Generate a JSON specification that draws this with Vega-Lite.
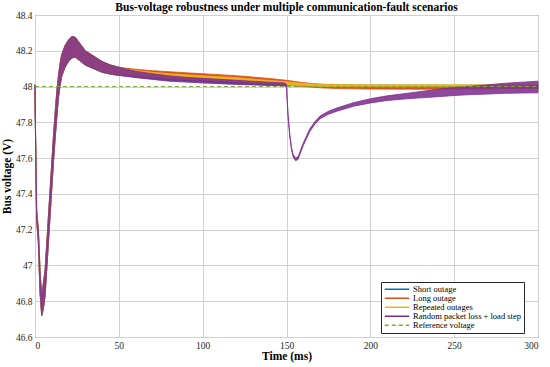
{
  "$schema": "https://vega.github.io/schema/vega-lite/v6.json",
  "width": 503,
  "height": 322,
  "autosize": {"type": "none"},
  "padding": {"left": 35, "top": 15, "right": 12, "bottom": 30},
  "background": "white",
  "config": {
    "font": "Liberation Serif",
    "view": {"stroke": "#262626", "strokeWidth": 1},
    "axis": {
      "labelFont": "Liberation Serif",
      "labelFontSize": 9.5,
      "labelColor": "#262626",
      "titleFont": "Liberation Serif",
      "titleFontSize": 11.5,
      "titleFontWeight": "bold",
      "titleColor": "#000000",
      "grid": true,
      "gridColor": "#d0d0d0",
      "gridWidth": 1,
      "domain": false,
      "ticks": false,
      "labelPadding": 3
    }
  },
  "title": {
    "text": "Bus-voltage robustness under multiple communication-fault scenarios",
    "font": "Liberation Serif",
    "fontSize": 11.5,
    "fontWeight": "bold",
    "color": "#000000",
    "offset": 3,
    "dy": 6
  },
  "data": {
    "values": [
      {"series": "Short outage", "t": 0, "lo": 47.99, "hi": 48.01},
      {"series": "Short outage", "t": 0.5, "lo": 47.55, "hi": 47.6},
      {"series": "Short outage", "t": 1, "lo": 47.25, "hi": 47.3},
      {"series": "Short outage", "t": 2, "lo": 47.13, "hi": 47.2},
      {"series": "Short outage", "t": 3, "lo": 46.85, "hi": 46.97},
      {"series": "Short outage", "t": 4, "lo": 46.72, "hi": 46.82},
      {"series": "Short outage", "t": 5, "lo": 46.76, "hi": 46.9},
      {"series": "Short outage", "t": 6, "lo": 46.83, "hi": 46.97},
      {"series": "Short outage", "t": 7, "lo": 46.98, "hi": 47.12},
      {"series": "Short outage", "t": 8, "lo": 47.13, "hi": 47.27},
      {"series": "Short outage", "t": 9, "lo": 47.28, "hi": 47.42},
      {"series": "Short outage", "t": 10, "lo": 47.43, "hi": 47.57},
      {"series": "Short outage", "t": 11, "lo": 47.58, "hi": 47.72},
      {"series": "Short outage", "t": 12, "lo": 47.71, "hi": 47.85},
      {"series": "Short outage", "t": 13, "lo": 47.83, "hi": 47.97},
      {"series": "Short outage", "t": 14, "lo": 47.94, "hi": 48.06},
      {"series": "Short outage", "t": 15, "lo": 48.01, "hi": 48.13},
      {"series": "Short outage", "t": 16, "lo": 48.06, "hi": 48.18},
      {"series": "Short outage", "t": 18, "lo": 48.11, "hi": 48.23},
      {"series": "Short outage", "t": 20, "lo": 48.14, "hi": 48.26},
      {"series": "Short outage", "t": 22, "lo": 48.16, "hi": 48.28},
      {"series": "Short outage", "t": 24, "lo": 48.165, "hi": 48.275},
      {"series": "Short outage", "t": 26, "lo": 48.15, "hi": 48.25},
      {"series": "Short outage", "t": 30, "lo": 48.12, "hi": 48.2},
      {"series": "Short outage", "t": 35, "lo": 48.1, "hi": 48.17},
      {"series": "Short outage", "t": 40, "lo": 48.08, "hi": 48.14},
      {"series": "Short outage", "t": 45, "lo": 48.07, "hi": 48.12},
      {"series": "Short outage", "t": 50, "lo": 48.062, "hi": 48.108},
      {"series": "Short outage", "t": 55, "lo": 48.06, "hi": 48.095},
      {"series": "Short outage", "t": 60, "lo": 48.052, "hi": 48.082},
      {"series": "Short outage", "t": 80, "lo": 48.035, "hi": 48.058},
      {"series": "Short outage", "t": 100, "lo": 48.025, "hi": 48.045},
      {"series": "Short outage", "t": 120, "lo": 48.016, "hi": 48.034},
      {"series": "Short outage", "t": 150, "lo": 48.005, "hi": 48.02},
      {"series": "Short outage", "t": 170, "lo": 48.0, "hi": 48.012},
      {"series": "Short outage", "t": 200, "lo": 47.998, "hi": 48.008},
      {"series": "Short outage", "t": 300, "lo": 47.998, "hi": 48.006},

      {"series": "Long outage", "t": 0, "lo": 47.99, "hi": 48.01},
      {"series": "Long outage", "t": 0.5, "lo": 47.55, "hi": 47.6},
      {"series": "Long outage", "t": 1, "lo": 47.25, "hi": 47.3},
      {"series": "Long outage", "t": 2, "lo": 47.13, "hi": 47.2},
      {"series": "Long outage", "t": 3, "lo": 46.85, "hi": 46.97},
      {"series": "Long outage", "t": 4, "lo": 46.72, "hi": 46.82},
      {"series": "Long outage", "t": 5, "lo": 46.76, "hi": 46.9},
      {"series": "Long outage", "t": 6, "lo": 46.83, "hi": 46.97},
      {"series": "Long outage", "t": 7, "lo": 46.98, "hi": 47.12},
      {"series": "Long outage", "t": 8, "lo": 47.13, "hi": 47.27},
      {"series": "Long outage", "t": 9, "lo": 47.28, "hi": 47.42},
      {"series": "Long outage", "t": 10, "lo": 47.43, "hi": 47.57},
      {"series": "Long outage", "t": 11, "lo": 47.58, "hi": 47.72},
      {"series": "Long outage", "t": 12, "lo": 47.71, "hi": 47.85},
      {"series": "Long outage", "t": 13, "lo": 47.83, "hi": 47.97},
      {"series": "Long outage", "t": 14, "lo": 47.94, "hi": 48.06},
      {"series": "Long outage", "t": 15, "lo": 48.01, "hi": 48.13},
      {"series": "Long outage", "t": 16, "lo": 48.06, "hi": 48.18},
      {"series": "Long outage", "t": 18, "lo": 48.11, "hi": 48.23},
      {"series": "Long outage", "t": 20, "lo": 48.14, "hi": 48.26},
      {"series": "Long outage", "t": 22, "lo": 48.16, "hi": 48.28},
      {"series": "Long outage", "t": 24, "lo": 48.165, "hi": 48.275},
      {"series": "Long outage", "t": 26, "lo": 48.15, "hi": 48.25},
      {"series": "Long outage", "t": 30, "lo": 48.12, "hi": 48.2},
      {"series": "Long outage", "t": 35, "lo": 48.1, "hi": 48.17},
      {"series": "Long outage", "t": 40, "lo": 48.08, "hi": 48.14},
      {"series": "Long outage", "t": 45, "lo": 48.07, "hi": 48.12},
      {"series": "Long outage", "t": 50, "lo": 48.062, "hi": 48.108},
      {"series": "Long outage", "t": 55, "lo": 48.068, "hi": 48.102},
      {"series": "Long outage", "t": 60, "lo": 48.06, "hi": 48.097},
      {"series": "Long outage", "t": 70, "lo": 48.053, "hi": 48.089},
      {"series": "Long outage", "t": 80, "lo": 48.047, "hi": 48.083},
      {"series": "Long outage", "t": 90, "lo": 48.043, "hi": 48.077},
      {"series": "Long outage", "t": 100, "lo": 48.04, "hi": 48.072},
      {"series": "Long outage", "t": 120, "lo": 48.031, "hi": 48.061},
      {"series": "Long outage", "t": 140, "lo": 48.017, "hi": 48.045},
      {"series": "Long outage", "t": 150, "lo": 48.009, "hi": 48.035},
      {"series": "Long outage", "t": 160, "lo": 48.0, "hi": 48.022},
      {"series": "Long outage", "t": 170, "lo": 47.993, "hi": 48.013},
      {"series": "Long outage", "t": 180, "lo": 47.989, "hi": 48.008},
      {"series": "Long outage", "t": 200, "lo": 47.986, "hi": 48.005},
      {"series": "Long outage", "t": 230, "lo": 47.985, "hi": 48.004},
      {"series": "Long outage", "t": 260, "lo": 47.987, "hi": 48.005},
      {"series": "Long outage", "t": 300, "lo": 47.99, "hi": 48.007},

      {"series": "Repeated outages", "t": 0, "lo": 47.99, "hi": 48.01},
      {"series": "Repeated outages", "t": 0.5, "lo": 47.55, "hi": 47.6},
      {"series": "Repeated outages", "t": 1, "lo": 47.25, "hi": 47.3},
      {"series": "Repeated outages", "t": 2, "lo": 47.13, "hi": 47.2},
      {"series": "Repeated outages", "t": 3, "lo": 46.85, "hi": 46.97},
      {"series": "Repeated outages", "t": 4, "lo": 46.72, "hi": 46.82},
      {"series": "Repeated outages", "t": 5, "lo": 46.76, "hi": 46.9},
      {"series": "Repeated outages", "t": 6, "lo": 46.83, "hi": 46.97},
      {"series": "Repeated outages", "t": 7, "lo": 46.98, "hi": 47.12},
      {"series": "Repeated outages", "t": 8, "lo": 47.13, "hi": 47.27},
      {"series": "Repeated outages", "t": 9, "lo": 47.28, "hi": 47.42},
      {"series": "Repeated outages", "t": 10, "lo": 47.43, "hi": 47.57},
      {"series": "Repeated outages", "t": 11, "lo": 47.58, "hi": 47.72},
      {"series": "Repeated outages", "t": 12, "lo": 47.71, "hi": 47.85},
      {"series": "Repeated outages", "t": 13, "lo": 47.83, "hi": 47.97},
      {"series": "Repeated outages", "t": 14, "lo": 47.94, "hi": 48.06},
      {"series": "Repeated outages", "t": 15, "lo": 48.01, "hi": 48.13},
      {"series": "Repeated outages", "t": 16, "lo": 48.06, "hi": 48.18},
      {"series": "Repeated outages", "t": 18, "lo": 48.11, "hi": 48.23},
      {"series": "Repeated outages", "t": 20, "lo": 48.14, "hi": 48.26},
      {"series": "Repeated outages", "t": 22, "lo": 48.16, "hi": 48.28},
      {"series": "Repeated outages", "t": 24, "lo": 48.165, "hi": 48.275},
      {"series": "Repeated outages", "t": 26, "lo": 48.15, "hi": 48.25},
      {"series": "Repeated outages", "t": 30, "lo": 48.12, "hi": 48.2},
      {"series": "Repeated outages", "t": 35, "lo": 48.1, "hi": 48.17},
      {"series": "Repeated outages", "t": 40, "lo": 48.08, "hi": 48.14},
      {"series": "Repeated outages", "t": 45, "lo": 48.07, "hi": 48.12},
      {"series": "Repeated outages", "t": 50, "lo": 48.062, "hi": 48.108},
      {"series": "Repeated outages", "t": 55, "lo": 48.068, "hi": 48.098},
      {"series": "Repeated outages", "t": 60, "lo": 48.06, "hi": 48.09},
      {"series": "Repeated outages", "t": 70, "lo": 48.052, "hi": 48.08},
      {"series": "Repeated outages", "t": 80, "lo": 48.045, "hi": 48.072},
      {"series": "Repeated outages", "t": 100, "lo": 48.036, "hi": 48.06},
      {"series": "Repeated outages", "t": 120, "lo": 48.027, "hi": 48.05},
      {"series": "Repeated outages", "t": 140, "lo": 48.015, "hi": 48.034},
      {"series": "Repeated outages", "t": 150, "lo": 48.009, "hi": 48.027},
      {"series": "Repeated outages", "t": 160, "lo": 48.004, "hi": 48.018},
      {"series": "Repeated outages", "t": 170, "lo": 48.0, "hi": 48.013},
      {"series": "Repeated outages", "t": 200, "lo": 47.999, "hi": 48.01},
      {"series": "Repeated outages", "t": 250, "lo": 47.999, "hi": 48.01},
      {"series": "Repeated outages", "t": 300, "lo": 47.999, "hi": 48.01},

      {"series": "Random packet loss + load step", "t": 0, "lo": 47.99, "hi": 48.01},
      {"series": "Random packet loss + load step", "t": 0.5, "lo": 47.55, "hi": 47.6},
      {"series": "Random packet loss + load step", "t": 1, "lo": 47.25, "hi": 47.3},
      {"series": "Random packet loss + load step", "t": 2, "lo": 47.13, "hi": 47.2},
      {"series": "Random packet loss + load step", "t": 3, "lo": 46.85, "hi": 46.97},
      {"series": "Random packet loss + load step", "t": 4, "lo": 46.72, "hi": 46.82},
      {"series": "Random packet loss + load step", "t": 5, "lo": 46.76, "hi": 46.9},
      {"series": "Random packet loss + load step", "t": 6, "lo": 46.83, "hi": 46.97},
      {"series": "Random packet loss + load step", "t": 7, "lo": 46.98, "hi": 47.12},
      {"series": "Random packet loss + load step", "t": 8, "lo": 47.13, "hi": 47.27},
      {"series": "Random packet loss + load step", "t": 9, "lo": 47.28, "hi": 47.42},
      {"series": "Random packet loss + load step", "t": 10, "lo": 47.43, "hi": 47.57},
      {"series": "Random packet loss + load step", "t": 11, "lo": 47.58, "hi": 47.72},
      {"series": "Random packet loss + load step", "t": 12, "lo": 47.71, "hi": 47.85},
      {"series": "Random packet loss + load step", "t": 13, "lo": 47.83, "hi": 47.97},
      {"series": "Random packet loss + load step", "t": 14, "lo": 47.94, "hi": 48.06},
      {"series": "Random packet loss + load step", "t": 15, "lo": 48.01, "hi": 48.13},
      {"series": "Random packet loss + load step", "t": 16, "lo": 48.06, "hi": 48.18},
      {"series": "Random packet loss + load step", "t": 18, "lo": 48.11, "hi": 48.23},
      {"series": "Random packet loss + load step", "t": 20, "lo": 48.14, "hi": 48.26},
      {"series": "Random packet loss + load step", "t": 22, "lo": 48.16, "hi": 48.28},
      {"series": "Random packet loss + load step", "t": 24, "lo": 48.165, "hi": 48.275},
      {"series": "Random packet loss + load step", "t": 26, "lo": 48.15, "hi": 48.25},
      {"series": "Random packet loss + load step", "t": 30, "lo": 48.12, "hi": 48.2},
      {"series": "Random packet loss + load step", "t": 35, "lo": 48.1, "hi": 48.17},
      {"series": "Random packet loss + load step", "t": 40, "lo": 48.08, "hi": 48.14},
      {"series": "Random packet loss + load step", "t": 45, "lo": 48.07, "hi": 48.12},
      {"series": "Random packet loss + load step", "t": 50, "lo": 48.062, "hi": 48.108},
      {"series": "Random packet loss + load step", "t": 60, "lo": 48.05, "hi": 48.085},
      {"series": "Random packet loss + load step", "t": 70, "lo": 48.04, "hi": 48.072},
      {"series": "Random packet loss + load step", "t": 80, "lo": 48.03, "hi": 48.06},
      {"series": "Random packet loss + load step", "t": 90, "lo": 48.025, "hi": 48.052},
      {"series": "Random packet loss + load step", "t": 100, "lo": 48.02, "hi": 48.046},
      {"series": "Random packet loss + load step", "t": 120, "lo": 48.012, "hi": 48.035},
      {"series": "Random packet loss + load step", "t": 140, "lo": 48.006, "hi": 48.024},
      {"series": "Random packet loss + load step", "t": 149, "lo": 48.004, "hi": 48.02},
      {"series": "Random packet loss + load step", "t": 150, "lo": 47.995, "hi": 48.012},
      {"series": "Random packet loss + load step", "t": 150.5, "lo": 47.9, "hi": 47.915},
      {"series": "Random packet loss + load step", "t": 151, "lo": 47.82, "hi": 47.835},
      {"series": "Random packet loss + load step", "t": 152, "lo": 47.715, "hi": 47.73},
      {"series": "Random packet loss + load step", "t": 153, "lo": 47.645, "hi": 47.66},
      {"series": "Random packet loss + load step", "t": 154, "lo": 47.605, "hi": 47.62},
      {"series": "Random packet loss + load step", "t": 155.5, "lo": 47.585, "hi": 47.6},
      {"series": "Random packet loss + load step", "t": 157, "lo": 47.595, "hi": 47.61},
      {"series": "Random packet loss + load step", "t": 158, "lo": 47.62, "hi": 47.635},
      {"series": "Random packet loss + load step", "t": 160, "lo": 47.67, "hi": 47.685},
      {"series": "Random packet loss + load step", "t": 162, "lo": 47.71, "hi": 47.725},
      {"series": "Random packet loss + load step", "t": 164, "lo": 47.75, "hi": 47.765},
      {"series": "Random packet loss + load step", "t": 167, "lo": 47.79, "hi": 47.805},
      {"series": "Random packet loss + load step", "t": 170, "lo": 47.82, "hi": 47.835},
      {"series": "Random packet loss + load step", "t": 175, "lo": 47.845, "hi": 47.862},
      {"series": "Random packet loss + load step", "t": 180, "lo": 47.862, "hi": 47.88},
      {"series": "Random packet loss + load step", "t": 190, "lo": 47.89, "hi": 47.91},
      {"series": "Random packet loss + load step", "t": 200, "lo": 47.908, "hi": 47.932},
      {"series": "Random packet loss + load step", "t": 210, "lo": 47.922, "hi": 47.948},
      {"series": "Random packet loss + load step", "t": 220, "lo": 47.93, "hi": 47.96},
      {"series": "Random packet loss + load step", "t": 230, "lo": 47.937, "hi": 47.972},
      {"series": "Random packet loss + load step", "t": 240, "lo": 47.943, "hi": 47.985},
      {"series": "Random packet loss + load step", "t": 250, "lo": 47.95, "hi": 47.995},
      {"series": "Random packet loss + load step", "t": 260, "lo": 47.955, "hi": 48.002},
      {"series": "Random packet loss + load step", "t": 270, "lo": 47.958, "hi": 48.01},
      {"series": "Random packet loss + load step", "t": 280, "lo": 47.962, "hi": 48.018},
      {"series": "Random packet loss + load step", "t": 290, "lo": 47.964, "hi": 48.024},
      {"series": "Random packet loss + load step", "t": 300, "lo": 47.965, "hi": 48.03},

      {"series": "Reference voltage", "t": 0, "lo": 48, "hi": 48},
      {"series": "Reference voltage", "t": 300, "lo": 48, "hi": 48}
    ]
  },
  "encoding": {
    "x": {
      "field": "t",
      "type": "quantitative",
      "title": "Time (ms)",
      "scale": {"domain": [0, 300], "nice": false, "zero": false},
      "axis": {"values": [0, 50, 100, 150, 200, 250, 300], "titlePadding": 1}
    },
    "y": {
      "field": "lo",
      "type": "quantitative",
      "title": "Bus voltage (V)",
      "scale": {"domain": [46.6, 48.4], "nice": false, "zero": false},
      "axis": {"values": [46.6, 46.8, 47, 47.2, 47.4, 47.6, 47.8, 48, 48.2, 48.4], "format": ".1~f", "titlePadding": 3}
    }
  },
  "layer": [
    {
      "transform": [{"filter": "datum.series === 'Short outage'"}],
      "mark": {"type": "area", "fill": "#0072BD", "stroke": "#0072BD", "strokeWidth": 0.8},
      "encoding": {"y2": {"field": "hi"}}
    },
    {
      "transform": [{"filter": "datum.series === 'Long outage'"}],
      "mark": {"type": "area", "fill": "#D95319", "stroke": "#D95319", "strokeWidth": 0.8},
      "encoding": {"y2": {"field": "hi"}}
    },
    {
      "transform": [{"filter": "datum.series === 'Repeated outages'"}],
      "mark": {"type": "area", "fill": "#EDB120", "stroke": "#EDB120", "strokeWidth": 0.8},
      "encoding": {"y2": {"field": "hi"}}
    },
    {
      "transform": [{"filter": "datum.series === 'Random packet loss + load step'"}],
      "mark": {"type": "area", "fill": "#7E2F8E", "fillOpacity": 0.88, "stroke": "#7E2F8E", "strokeWidth": 0.8},
      "encoding": {"y2": {"field": "hi"}}
    },
    {
      "transform": [{"filter": "datum.series === 'Reference voltage'"}],
      "mark": {"type": "line", "strokeWidth": 1},
      "encoding": {
        "color": {
          "field": "series",
          "type": "nominal",
          "scale": {
            "domain": ["Short outage", "Long outage", "Repeated outages", "Random packet loss + load step", "Reference voltage"],
            "range": ["#0072BD", "#D95319", "#EDB120", "#7E2F8E", "#77AC30"]
          },
          "legend": {
            "title": null,
            "orient": "none",
            "legendX": 346,
            "legendY": 267,
            "strokeColor": "#262626",
            "fillColor": "white",
            "padding": 3,
            "symbolType": "stroke",
            "symbolSize": 600,
            "symbolStrokeWidth": 1.5,
            "clipHeight": 8.4,
            "rowPadding": 0,
            "labelFont": "Liberation Serif",
            "labelFontSize": 8.5,
            "labelColor": "#000000",
            "labelOffset": 3
          }
        },
        "strokeDash": {
          "field": "series",
          "type": "nominal",
          "scale": {
            "domain": ["Short outage", "Long outage", "Repeated outages", "Random packet loss + load step", "Reference voltage"],
            "range": [[1, 0], [1, 0], [1, 0], [1, 0], [4, 3]]
          },
          "legend": {
            "title": null,
            "orient": "none",
            "legendX": 346,
            "legendY": 267,
            "strokeColor": "#262626",
            "fillColor": "white",
            "padding": 3,
            "symbolType": "stroke",
            "symbolSize": 600,
            "symbolStrokeWidth": 1.5,
            "clipHeight": 8.4,
            "rowPadding": 0,
            "labelFont": "Liberation Serif",
            "labelFontSize": 8.5,
            "labelColor": "#000000",
            "labelOffset": 3
          }
        }
      }
    }
  ]
}
